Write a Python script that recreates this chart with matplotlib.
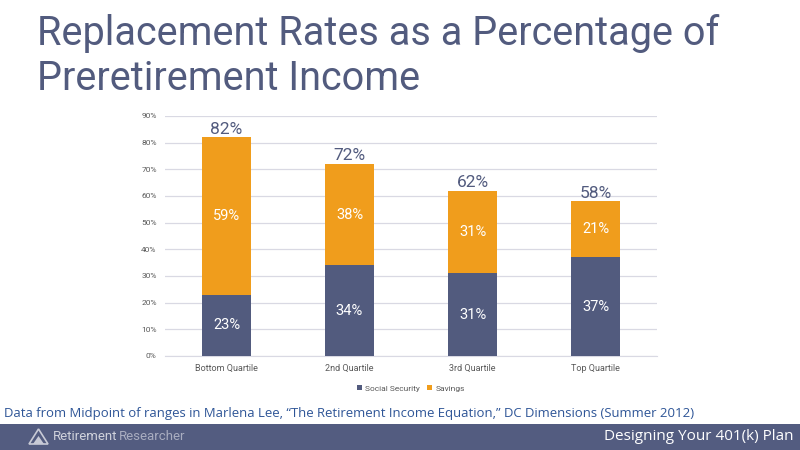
import matplotlib
matplotlib.use("Agg")
import matplotlib.pyplot as plt
from matplotlib.patches import Rectangle, Polygon
import numpy as np

categories = ["Bottom Quartile", "2nd Quartile", "3rd Quartile", "Top Quartile"]
social_security = [23, 34, 31, 37]
savings = [59, 38, 31, 21]
totals = [82, 72, 62, 58]
yticks = [0, 10, 20, 30, 40, 50, 60, 70, 80, 90]

NAVY = "#525B7E"
ORANGE = "#F09D1C"
TITLE = "#525B7E"

fig = plt.figure(figsize=(8, 4.5), dpi=100)
fig.patch.set_facecolor("white")

# Title
fig.text(37/800, 1-45/450, "Replacement Rates as a Percentage of", fontsize=28.5,
         family="Roboto", color=TITLE, ha="left", va="baseline")
fig.text(37/800, 1-90/450, "Preretirement Income", fontsize=28.5,
         family="Roboto", color=TITLE, ha="left", va="baseline")

ax = fig.add_axes([165/800, 1-356/450, 492/800, 240/450])
x = np.arange(len(categories))
w = 0.4
ax.bar(x, social_security, w, color=NAVY, label="Social Security", zorder=3)
ax.bar(x, savings, w, bottom=social_security, color=ORANGE, label="Savings", zorder=3)

for i in range(len(categories)):
    ax.text(x[i], social_security[i]/2, f"{social_security[i]}%", ha="center", va="center",
            color="white", fontsize=10.5, family="Roboto", zorder=4)
    ax.text(x[i], social_security[i] + savings[i]/2, f"{savings[i]}%", ha="center", va="center",
            color="white", fontsize=10.5, family="Roboto", zorder=4)
    ax.text(x[i], totals[i] + 0.3, f"{totals[i]}%", ha="center", va="bottom",
            color=TITLE, fontsize=12.5, family="Roboto", zorder=4)

ax.set_xlim(-0.5, len(categories) - 0.5)
ax.set_ylim(0, 90)
ax.set_yticks(yticks)
ax.set_yticklabels([f"{t}%" for t in yticks], fontsize=6, color="#595959", family="Roboto")
ax.set_xticks(x)
ax.set_xticklabels(categories, fontsize=6.5, color="#595959", family="Roboto")
ax.tick_params(length=0, pad=6)
ax.tick_params(axis="x", pad=6)
ax.yaxis.grid(True, color="#D9D9E3", linewidth=0.9, zorder=0)
for s in ["top", "right", "left"]:
    ax.spines[s].set_visible(False)
ax.spines["bottom"].set_color("#D9D9E3")
ax.set_axisbelow(True)

leg = ax.legend(loc="upper center", bbox_to_anchor=(0.5, -0.09), ncol=2, frameon=False,
                handlelength=0.6, handleheight=0.6, handletextpad=0.4,
                columnspacing=0.8, prop={"family": "Roboto", "size": 6})
for t in leg.get_texts():
    t.set_color("#595959")

# Source note
fig.text(4/800, 1-413/450, "Data from Midpoint of ranges in Marlena Lee, \u201cThe Retirement Income Equation,\u201d DC Dimensions (Summer 2012)",
         fontsize=9.45, family=["Open Sans", "DejaVu Sans"], color="#2E5597",
         ha="left", va="center")

# Footer bar
fig.patches.append(Rectangle((0, 0), 1, 26/450, transform=fig.transFigure,
                             facecolor="#535C80", edgecolor="none", zorder=1))
# logo mountain
fig.patches.append(Polygon([(29/800, 1-444/450), (38.5/800, 1-429/450), (48/800, 1-444/450)],
                           closed=True, transform=fig.transFigure, facecolor="none",
                           edgecolor="#C8CAD6", linewidth=1.2, zorder=2))
fig.patches.append(Polygon([(33/800, 1-444/450), (38.5/800, 1-436/450), (44/800, 1-444/450)],
                           closed=True, transform=fig.transFigure, facecolor="#C8CAD6",
                           edgecolor="none", zorder=2))
fig.text(53/800, 1-437/450, "Retirement", fontsize=9.5, family="Roboto", color="#D0D2DC",
         ha="left", va="center", zorder=3)
fig.text(119/800, 1-437/450, "Researcher", fontsize=9.5, family="Roboto", color="#A9ADC0",
         ha="left", va="center", zorder=3)
fig.text(793/800, 1-437/450, "Designing Your 401(k) Plan", fontsize=11,
         family=["Open Sans", "DejaVu Sans"], color="white",
         ha="right", va="center", zorder=3)

fig.savefig("out.png", dpi=100)
